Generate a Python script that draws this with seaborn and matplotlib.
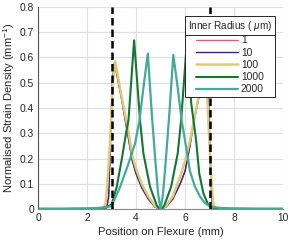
import numpy as np
import pandas as pd
import seaborn as sns
from matplotlib import pyplot as plt
from matplotlib.lines import Line2D

# values
radius_labels = ["1", "10", "100", "1000", "2000"]
radius_colours = ["#cc6677", "#332288", "#ddcc77", "#117733", "#44aa99"]
radius_widths = [1.0, 1.0, 1.8, 1.5, 1.6]

x_r1 = [0, 1, 2, 2.5, 2.8, 2.88, 2.95, 3.03, 3.12, 3.4, 3.67, 3.85, 4.0, 4.23, 4.5, 4.78, 4.92, 5.0,
        5.08, 5.22, 5.5, 5.8, 6.0, 6.2, 6.33, 6.6, 6.87, 6.95, 7.03, 7.1, 7.2, 7.5, 8, 9, 10]
y_r1 = [0, 0, 0, 0.001, 0.005, 0.05, 0.25, 0.5, 0.58, 0.44, 0.29, 0.19, 0.14, 0.085, 0.04, 0.008, 0.002, 0,
        0.002, 0.008, 0.04, 0.1, 0.15, 0.25, 0.33, 0.46, 0.58, 0.45, 0.2, 0.03, 0.004, 0.001, 0, 0, 0]
x_r10 = x_r1
y_r10 = y_r1
x_r100 = [0, 1, 2, 2.5, 2.68, 2.75, 2.82, 2.94, 3.05, 3.15, 3.4, 3.7, 3.85, 4.0, 4.23, 4.5, 4.78, 4.92, 5.0,
          5.08, 5.22, 5.5, 5.8, 6.0, 6.2, 6.4, 6.6, 6.85, 6.95, 7.05, 7.15, 7.25, 7.5, 8, 9, 10]
y_r100 = [0, 0, 0.001, 0.002, 0.005, 0.02, 0.088, 0.27, 0.5, 0.585, 0.45, 0.3, 0.21, 0.16, 0.1, 0.05, 0.012, 0.003, 0,
          0.003, 0.012, 0.05, 0.13, 0.19, 0.27, 0.37, 0.47, 0.585, 0.35, 0.15, 0.02, 0.003, 0.001, 0, 0, 0]
x_r1000 = [0, 1, 2, 2.5, 2.8, 3.0, 3.21, 3.41, 3.59, 3.69, 3.92, 4.16, 4.3, 4.57, 4.84, 4.92, 5.0,
           5.08, 5.16, 5.43, 5.7, 5.84, 6.08, 6.25, 6.45, 6.58, 6.75, 6.95, 7.1, 7.5, 8, 9, 10]
y_r1000 = [0, 0, 0.001, 0.003, 0.008, 0.018, 0.088, 0.194, 0.3, 0.352, 0.668, 0.352, 0.22, 0.088, 0.016, 0.004, 0,
           0.004, 0.016, 0.088, 0.22, 0.352, 0.668, 0.42, 0.273, 0.14, 0.062, 0.016, 0.006, 0.002, 0.001, 0, 0]
x_r2000 = [0, 1, 2, 2.5, 2.8, 3.0, 3.35, 3.69, 3.96, 4.14, 4.3, 4.48, 4.64, 4.78, 4.9, 5.0,
           5.1, 5.22, 5.36, 5.52, 5.7, 5.86, 6.0, 6.2, 6.4, 6.61, 6.8, 7.02, 7.4, 7.84, 9, 10]
y_r2000 = [0.002, 0.002, 0.003, 0.005, 0.008, 0.012, 0.088, 0.18, 0.26, 0.352, 0.48, 0.615, 0.38, 0.2, 0.06, 0,
           0.06, 0.2, 0.38, 0.61, 0.48, 0.352, 0.27, 0.15, 0.09, 0.05, 0.025, 0.01, 0.005, 0.003, 0.002, 0.002]

flexure_edges = [3, 7]

series = {
    "1": (x_r1, y_r1),
    "10": (x_r10, y_r10),
    "100": (x_r100, y_r100),
    "1000": (x_r1000, y_r1000),
    "2000": (x_r2000, y_r2000),
}
frames = []
for name, (xs, ys) in series.items():
    frames.append(pd.DataFrame({"Position": xs, "Density": ys, "Radius": name}))
df = pd.concat(frames, ignore_index=True)

sns.set_theme(style="whitegrid")
plt.rcParams["font.family"] = ["Liberation Sans", "DejaVu Sans"]
plt.rcParams["mathtext.fontset"] = "custom"
plt.rcParams["mathtext.rm"] = "Liberation Sans"
plt.rcParams["mathtext.it"] = "Liberation Sans:italic"

fig = plt.figure(figsize=(2.93, 2.46), dpi=100)
ax = fig.add_axes([0.13, 0.15, 0.836, 0.822])

for name, colour, lw in zip(radius_labels, radius_colours, radius_widths):
    sns.lineplot(data=df[df["Radius"] == name], x="Position", y="Density", color=colour,
                 lw=lw, sort=False, estimator=None, label=name, ax=ax)

for xe in flexure_edges:
    ax.axvline(xe, color="black", lw=1.8, ls=(0, (3, 1.6)), zorder=5)

ax.set_xlim(0, 10)
ax.set_ylim(0, 0.8)
ax.set_xticks([0, 2, 4, 6, 8, 10])
ax.set_yticks(np.arange(0, 0.81, 0.1))
ax.set_yticklabels(["0", "0.1", "0.2", "0.3", "0.4", "0.5", "0.6", "0.7", "0.8"])
ax.tick_params(length=0, labelsize=7.4, colors="#262626", pad=3)
ax.grid(True, color="#e0e0e0", lw=0.9)
ax.set_axisbelow(True)
for side in ["top", "right"]:
    ax.spines[side].set_visible(False)
ax.spines["left"].set_color("#555555")
ax.spines["bottom"].set_color("#8a8a8a")
ax.spines["left"].set_linewidth(0.8)
ax.spines["bottom"].set_linewidth(0.8)
ax.set_xlabel("Position on Flexure (mm)", fontsize=8.1, color="#262626", labelpad=3)
ax.set_ylabel("Normalised Strain Density (mm$^{-1}$)", fontsize=8.1, color="#262626", labelpad=2)

leg = ax.legend(title="Inner Radius ( $\\mu$m)", loc="upper right", bbox_to_anchor=(0.967, 0.955),
                borderaxespad=0, fontsize=7.4, title_fontsize=7.2, handlelength=4.1,
                handletextpad=0.3, labelspacing=0.22, fancybox=False, framealpha=1,
                edgecolor="#262626", borderpad=0.3)
leg.get_frame().set_linewidth(0.7)
leg.set_zorder(10)

# MATLAB-style rule under the legend title
fig.canvas.draw()
renderer = fig.canvas.get_renderer()
box = leg.get_frame().get_window_extent(renderer)
tbox = leg.get_title().get_window_extent(renderer)
yline = tbox.y0 - 2
inv = fig.transFigure.inverted()
(x0f, yf), (x1f, _) = inv.transform([(box.x0, yline), (box.x1, yline)])
fig.add_artist(Line2D([x0f, x1f], [yf, yf], color="#262626", lw=0.7, zorder=11))

fig.savefig("out.png", dpi=100)
